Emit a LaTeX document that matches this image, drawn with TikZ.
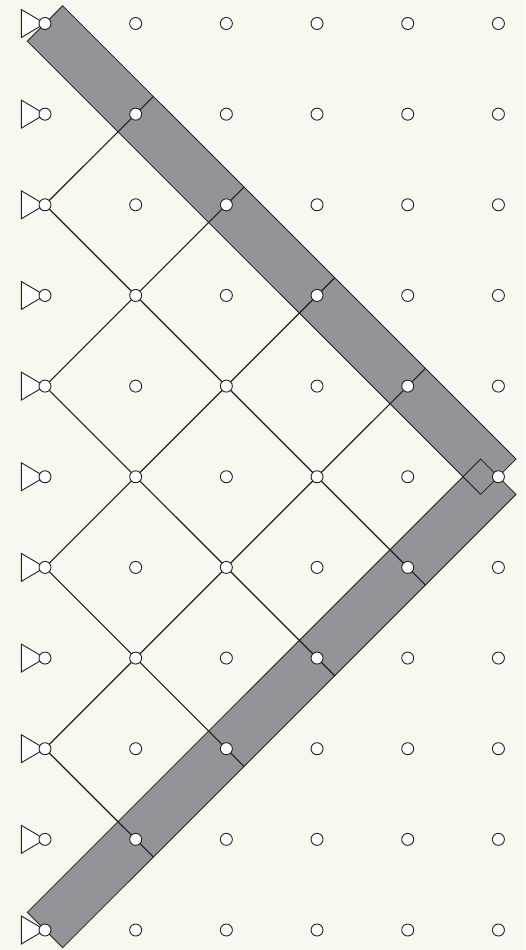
\documentclass[tikz,border=0pt]{standalone}
\usetikzlibrary{calc}
\definecolor{paper}{HTML}{F8F8F1}
\definecolor{band}{HTML}{929497}
\definecolor{ink}{HTML}{231F20}
\pgfdeclarelayer{under}
\pgfsetlayers{under,main}
\tikzset{
  x=1pt,y=-1pt,
  dot/.style={circle,draw=ink,fill=white,line width=0.9pt,minimum size=12pt,inner sep=0pt,outer sep=0pt},
  bandshape/.style={draw=ink,fill=band,line width=0.8pt,line join=miter},
  link/.style={draw=ink,line width=1.15pt},
  source/.style={draw=ink,fill=white,line width=0.9pt,line join=miter},
}
\begin{document}
\begin{tikzpicture}
\useasboundingbox (0,0) rectangle (525,950);
% dots
\foreach \c in {0,...,5}{
  \foreach \r in {0,...,10}{
    \coordinate (p-\c-\r) at ({45+90.68*\c},{23.5+90.65*\r});
  }
}
% sources
\foreach \r in {0,...,10}{
  \draw[source] (p-0-\r) -- ++(-23.7,-14) -- ++(0,28) -- cycle;
}
\foreach \c in {0,...,5}{
  \foreach \r in {0,...,10}{
    \node[dot] (d-\c-\r) at (p-\c-\r) {};
  }
}
% ends of the links on the outer edges of the bands
\coordinate (ne1) at ($(p-1-1)+(17.7,-17.7)$);
\coordinate (ne2) at ($(p-2-2)+(17.7,-17.7)$);
\coordinate (ne3) at ($(p-3-3)+(17.7,-17.7)$);
\coordinate (ne4) at ($(p-4-4)+(17.7,-17.7)$);
\coordinate (se1) at ($(p-1-9)+(17.7,17.7)$);
\coordinate (se2) at ($(p-2-8)+(17.7,17.7)$);
\coordinate (se3) at ($(p-3-7)+(17.7,17.7)$);
\coordinate (se4) at ($(p-4-6)+(17.7,17.7)$);
\begin{pgfonlayer}{under}
  \fill[paper] (0,0) rectangle (525,950);
  % upper band
  \path[bandshape] ($(p-0-0)+(17.7,-17.7)$) -- ($(p-5-5)+(17.7,-17.7)$) -- ($(p-5-5)+(-17.7,17.7)$) -- ($(p-0-0)+(-17.7,17.7)$) -- cycle;
  % lower band
  \path[bandshape] ($(p-0-10)+(17.7,17.7)$) -- ($(p-5-5)+(17.7,17.7)$) -- ($(p-5-5)+(-17.7,-17.7)$) -- ($(p-0-10)+(-17.7,-17.7)$) -- cycle;
  % outline of the upper band's lower edge, where the lower band covers it
  \draw[draw=ink,line width=0.8pt] ($(p-5-5)+(-17.7,17.7)$) -- ($(p-5-5)+(-35.4,0)$);
  \draw[draw=ink,line width=0.8pt] ($(p-5-5)+(-17.7,17.7)$) -- (p-5-5);
  % lattice links
  \draw[link] (d-0-2.center) -- (ne1);
  \draw[link] (d-0-4.center) -- (ne2);
  \draw[link] (d-0-6.center) -- (ne3);
  \draw[link] (d-0-8.center) -- (ne4);
  \draw[link] (d-0-8.center) -- (se1);
  \draw[link] (d-0-6.center) -- (se2);
  \draw[link] (d-0-4.center) -- (se3);
  \draw[link] (d-0-2.center) -- (se4);
\end{pgfonlayer}
\end{tikzpicture}
\end{document}
